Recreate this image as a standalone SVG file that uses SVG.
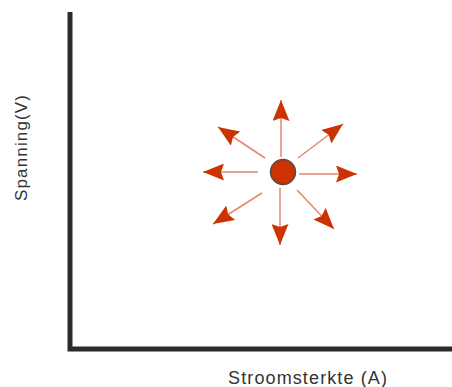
<svg xmlns="http://www.w3.org/2000/svg" width="452" height="387" viewBox="0 0 452 387">
  <style>
    .axis { fill: none; stroke: #2b2b2b; stroke-width: 5; stroke-linejoin: miter; }
    .label { font-family: "Liberation Sans", Arial, sans-serif; font-size: 17px; fill: #333333; }
    .ray { stroke: #e5866c; stroke-width: 1.5; fill: none; marker-end: url(#head); }
    .dot { fill: #cc3300; stroke: #5a4a44; stroke-width: 1.5; }
  </style>
  <defs>
    <marker id="head" markerUnits="userSpaceOnUse" markerWidth="21" markerHeight="17" viewBox="0 0 21 17" refX="21" refY="8.5" orient="auto">
      <path d="M0,0 L21,8.5 L0,17 L3,8.5 z" fill="#cc3300"/>
    </marker>
  </defs>
  <rect width="452" height="387" fill="#ffffff"/>

  <!-- axes -->
  <g id="axes">
    <path class="axis" d="M70,12 L70,349 L452,349"/>
  </g>

  <!-- axis labels -->
  <g id="y-label">
    <text class="label" transform="translate(27,148) rotate(-90)" text-anchor="middle" textLength="106" lengthAdjust="spacing">Spanning(V)</text>
  </g>
  <g id="x-label">
    <text class="label" style="font-size:18px" x="228" y="384" textLength="159" lengthAdjust="spacing">Stroomsterkte (A)</text>
  </g>

  <!-- rays spreading out from the point -->
  <g id="rays">
    <line class="ray" x1="281" y1="157" x2="281" y2="100"/>
    <line class="ray" x1="298" y1="158" x2="343" y2="124"/>
    <line class="ray" x1="299" y1="174" x2="357" y2="174"/>
    <line class="ray" x1="297" y1="190" x2="334" y2="229"/>
    <line class="ray" x1="280" y1="188" x2="280" y2="245"/>
    <line class="ray" x1="262" y1="193" x2="213" y2="224"/>
    <line class="ray" x1="258" y1="172" x2="203" y2="172"/>
    <line class="ray" x1="265" y1="158" x2="218" y2="127"/>
  </g>

  <!-- operating point -->
  <g id="point">
    <circle class="dot" cx="283" cy="172" r="12.5"/>
  </g>
</svg>
